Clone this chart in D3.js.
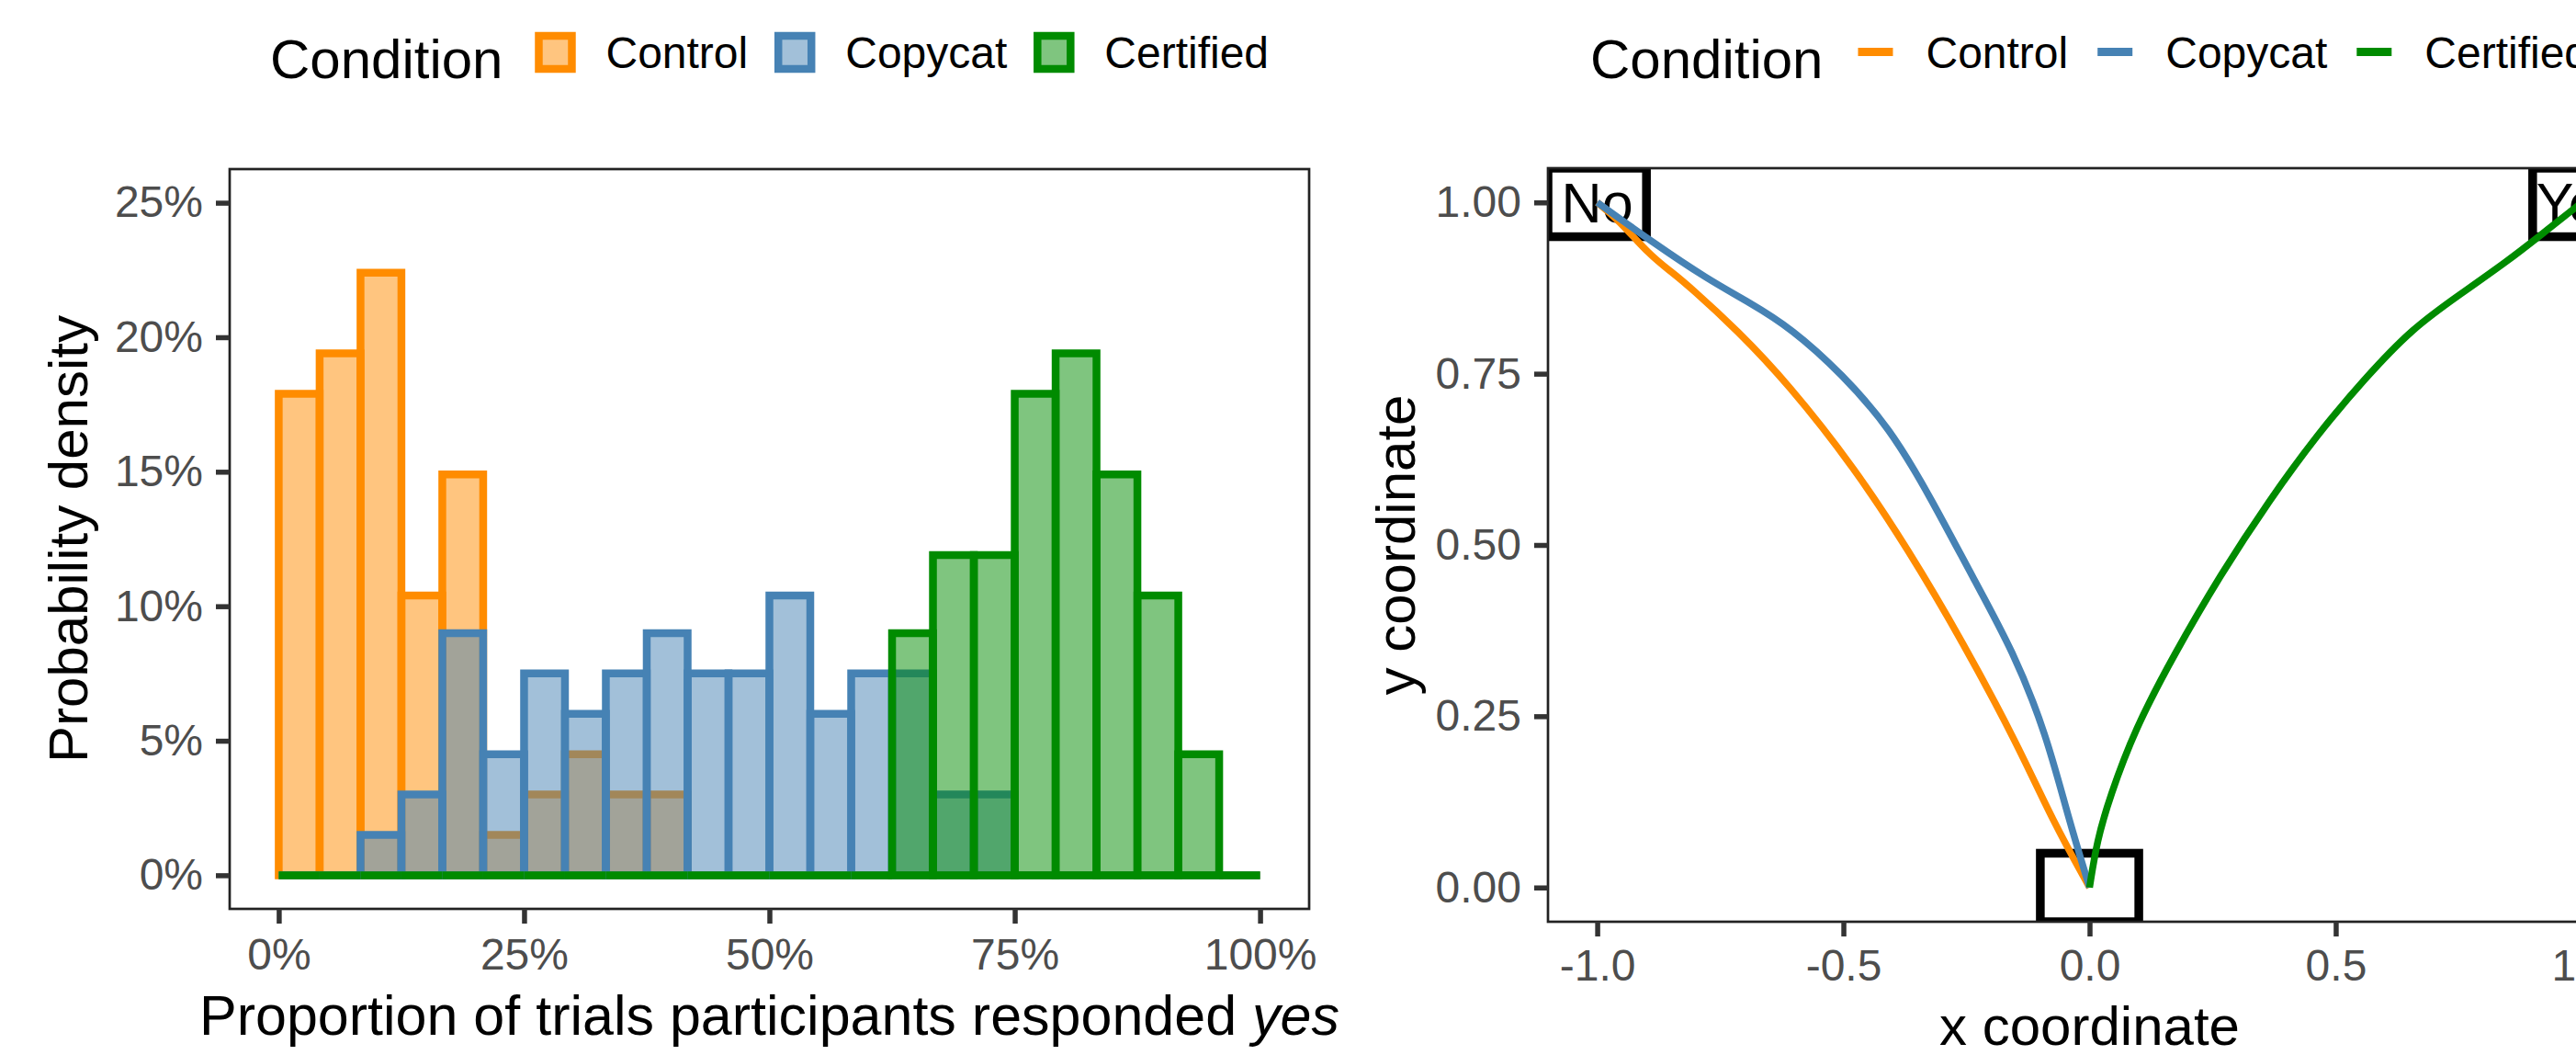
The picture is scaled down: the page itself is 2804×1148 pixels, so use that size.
<!DOCTYPE html>
<html>
<head>
<meta charset="utf-8">
<script src="https://cdn.jsdelivr.net/npm/d3@7"></script>
<style>
  body { margin: 0; background: #fff; }
  svg { display: block; font-family: "Liberation Sans", Arial, Helvetica, sans-serif; }
</style>
</head>
<body>
<div id="chart"></div>
<script>
const conditions = ["Control", "Copycat", "Certified"];
const conditionColors = ["#FF8C00", "#4682B4", "#008B00"];

// histogram, 24 bins of width 1/24, values in percent of participants
const binCount = 24;
const controlPct   = [17.9, 19.4, 22.4, 10.4, 14.9, 1.5, 3.0, 4.5, 3.0, 3.0, 0, 0, 0, 0, 0, 0, 0, 0, 0, 0, 0, 0, 0, 0];
const copycatPct   = [0, 0, 1.5, 3.0, 9.0, 4.5, 7.5, 6.0, 7.5, 9.0, 7.5, 7.5, 10.4, 6.0, 7.5, 7.5, 3.0, 3.0, 0, 0, 0, 0, 0, 0];
const certifiedPct = [0, 0, 0, 0, 0, 0, 0, 0, 0, 0, 0, 0, 0, 0, 0, 9.0, 11.9, 11.9, 17.9, 19.4, 14.9, 10.4, 4.5, 0];

const histXTicks = [0, 0.25, 0.5, 0.75, 1];
const histYTicks = [0, 5, 10, 15, 20, 25];

// mean response trajectories [x, y]
const controlTrack = [[-1, 1], [-0.959, 0.976], [-0.892, 0.922], [-0.848, 0.898], [-0.811, 0.876],
  [-0.715, 0.813], [-0.612, 0.735], [-0.479, 0.614], [-0.369, 0.494], [-0.258, 0.359],
  [-0.147, 0.210], [-0.074, 0.096], [0, 0]];
const copycatTrack = [[-1, 1], [-0.892, 0.944], [-0.774, 0.887], [-0.693, 0.855], [-0.605, 0.816],
  [-0.502, 0.749], [-0.406, 0.671], [-0.324, 0.571], [-0.236, 0.451], [-0.155, 0.345],
  [-0.088, 0.224], [-0.044, 0.104], [0, 0]];
const certifiedTrack = [[0, 0], [0.015, 0.068], [0.041, 0.132], [0.092, 0.231], [0.170, 0.338],
  [0.267, 0.458], [0.364, 0.564], [0.461, 0.660], [0.558, 0.742], [0.655, 0.816],
  [0.753, 0.866], [0.850, 0.915], [0.914, 0.951], [1, 1]];

const trackXTicks = [-1, -0.5, 0, 0.5, 1];
const trackYTicks = [0, 0.25, 0.5, 0.75, 1];
const targets = [{x: -1, y: 1, label: "No"}, {x: 0, y: 0, label: ""}, {x: 1, y: 1, label: "Yes"}];

const W = 2804, H = 1148;
const svg = d3.select("#chart").append("svg").attr("width", W).attr("height", H);
svg.append("rect").attr("width", W).attr("height", H).attr("fill", "#fff");

function styleAxis(g) {
  g.select(".domain").remove();
  g.selectAll(".tick line").attr("stroke", "#333333").attr("stroke-width", 5.5);
  g.selectAll(".tick text").attr("fill", "#4D4D4D").attr("font-size", 48).attr("font-family", null);
}

function drawLegend(centerX, keyType) {
  const g = svg.append("g");
  const title = g.append("text").attr("x", 0).attr("y", 85).attr("font-size", 60).text("Condition");
  let x = title.node().getComputedTextLength() + 57;
  conditions.forEach((c, i) => {
    if (keyType === "rect") {
      g.append("rect").attr("x", x - 18).attr("y", 39).attr("width", 36).attr("height", 36)
        .attr("fill", conditionColors[i]).attr("fill-opacity", 0.5)
        .attr("stroke", conditionColors[i]).attr("stroke-width", 8.5);
    } else {
      g.append("line").attr("x1", x - 19).attr("x2", x + 19).attr("y1", 56.5).attr("y2", 56.5)
        .attr("stroke", conditionColors[i]).attr("stroke-width", 9);
    }
    const t = g.append("text").attr("x", x + 55).attr("y", 74).attr("font-size", 48).text(c);
    x += 55 + t.node().getComputedTextLength() + 51;
  });
  const total = x - 51;
  g.attr("transform", `translate(${centerX - total / 2},0)`);
}

function clipFor(id, x, y, w, h) {
  svg.append("clipPath").attr("id", id).append("rect")
    .attr("x", x).attr("y", y).attr("width", w).attr("height", h);
  return `url(#${id})`;
}

// ---------- left: histogram ----------
function drawHistogram() {
  const p = {left: 250, right: 1425, top: 184, bottom: 989};
  const x = d3.scaleLinear().domain([-0.05, 1.05]).range([p.left, p.right]);
  const y = d3.scaleLinear().domain([-1.25, 26.25]).range([p.bottom, p.top]);

  const body = svg.append("g").attr("clip-path", clipFor("clipHist", p.left, p.top, p.right - p.left, p.bottom - p.top));
  const series = [controlPct, copycatPct, certifiedPct];
  series.forEach((vals, si) => {
    body.append("g").selectAll("path").data(vals).join("path")
      .attr("d", (v, i) => {
        const x0 = x(i / binCount), x1 = x((i + 1) / binCount), y0 = y(0), y1 = y(v);
        return `M${x0},${y0}V${y1}H${x1}V${y0}Z`;
      })
      .attr("fill", conditionColors[si]).attr("fill-opacity", 0.5)
      .attr("stroke", conditionColors[si]).attr("stroke-width", 8.5)
      .attr("stroke-linejoin", "miter");
  });

  svg.append("rect").attr("x", p.left).attr("y", p.top)
    .attr("width", p.right - p.left).attr("height", p.bottom - p.top)
    .attr("fill", "none").attr("stroke", "#222").attr("stroke-width", 2.7);

  svg.append("g").attr("transform", `translate(${p.left},0)`)
    .call(d3.axisLeft(y).tickValues(histYTicks).tickFormat(d => d + "%").tickSize(15).tickPadding(14))
    .call(styleAxis);
  svg.append("g").attr("transform", `translate(0,${p.bottom})`)
    .call(d3.axisBottom(x).tickValues(histXTicks).tickFormat(d => Math.round(d * 100) + "%").tickSize(16).tickPadding(16))
    .call(styleAxis);

  const xt = svg.append("text").attr("x", (p.left + p.right) / 2).attr("y", 1126)
    .attr("text-anchor", "middle").attr("font-size", 61);
  xt.append("tspan").text("Proportion of trials participants responded ");
  xt.append("tspan").attr("font-style", "italic").text("yes");

  svg.append("text").attr("transform", `translate(95,${(p.top + p.bottom) / 2}) rotate(-90)`)
    .attr("text-anchor", "middle").attr("font-size", 60).text("Probability density");

  drawLegend((p.left + p.right) / 2, "rect");
}

// ---------- right: trajectories ----------
function drawTrajectories() {
  const p = {left: 1685, right: 2864, top: 183, bottom: 1003};
  const x = d3.scaleLinear().domain([-1.1, 1.1]).range([p.left, p.right]);
  const y = d3.scaleLinear().domain([-0.05, 1.05]).range([p.bottom, p.top]);

  const body = svg.append("g").attr("clip-path", clipFor("clipTrack", p.left, p.top, p.right - p.left, p.bottom - p.top));

  body.selectAll("rect.target").data(targets).join("rect").attr("class", "target")
    .attr("x", d => x(d.x - 0.1)).attr("y", d => y(d.y + 0.05))
    .attr("width", d => x(d.x + 0.1) - x(d.x - 0.1)).attr("height", d => y(d.y - 0.05) - y(d.y + 0.05))
    .attr("fill", "none").attr("stroke", "#000").attr("stroke-width", 9.5);
  body.selectAll("text.target").data(targets).join("text").attr("class", "target")
    .attr("x", d => x(d.x)).attr("y", d => y(d.y) + 22)
    .attr("text-anchor", "middle").attr("font-size", 61).text(d => d.label);

  const line = d3.line().x(d => x(d[0])).y(d => y(d[1])).curve(d3.curveBasis);
  [controlTrack, copycatTrack, certifiedTrack].forEach((tr, i) => {
    body.append("path").attr("d", line(tr)).attr("fill", "none")
      .attr("stroke", conditionColors[i]).attr("stroke-width", 7.5)
      .attr("stroke-linejoin", "round").attr("stroke-linecap", "butt");
  });

  svg.append("rect").attr("x", p.left).attr("y", p.top)
    .attr("width", p.right - p.left).attr("height", p.bottom - p.top)
    .attr("fill", "none").attr("stroke", "#222").attr("stroke-width", 2.7);

  svg.append("g").attr("transform", `translate(${p.left},0)`)
    .call(d3.axisLeft(y).tickValues(trackYTicks).tickFormat(d => d.toFixed(2)).tickSize(15).tickPadding(14))
    .call(styleAxis);
  svg.append("g").attr("transform", `translate(0,${p.bottom})`)
    .call(d3.axisBottom(x).tickValues(trackXTicks).tickFormat(d => d.toFixed(1)).tickSize(16).tickPadding(14))
    .call(styleAxis);

  svg.append("text").attr("x", (p.left + p.right) / 2).attr("y", 1137)
    .attr("text-anchor", "middle").attr("font-size", 60).text("x coordinate");
  svg.append("text").attr("transform", `translate(1540,${(p.top + p.bottom) / 2}) rotate(-90)`)
    .attr("text-anchor", "middle").attr("font-size", 60).text("y coordinate");

  drawLegend((p.left + p.right) / 2, "line");
}

drawHistogram();
drawTrajectories();
</script>
</body>
</html>
